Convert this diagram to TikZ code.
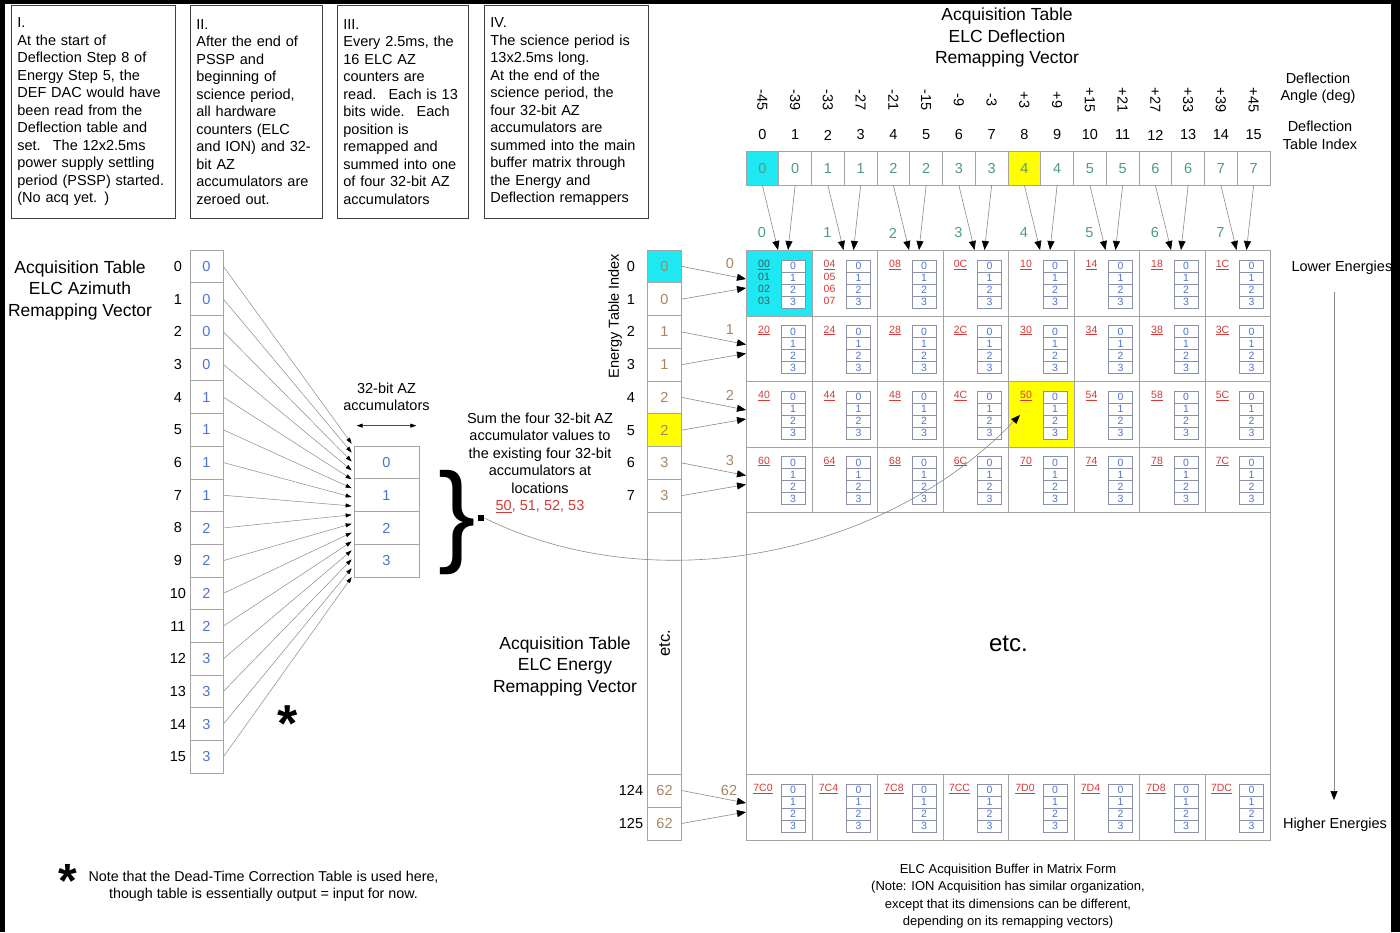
\documentclass[tikz,border=0pt]{standalone}
\usepackage{fontspec}
\setmainfont{Liberation Sans}
\usetikzlibrary{arrows.meta, positioning, calc}
\definecolor{elcCyan}{HTML}{1EE8F2}
\definecolor{elcYellow}{HTML}{FFFF00}
\definecolor{gridGray}{HTML}{A4A4A4}
\definecolor{subGray}{HTML}{8A90A8}
\definecolor{wireGray}{HTML}{8A8A8A}
\definecolor{azBlue}{HTML}{4F74CE}
\definecolor{deflTeal}{HTML}{4E9C80}
\definecolor{enBrown}{HTML}{A88660}
\definecolor{hexRed}{HTML}{D43A3A}
\definecolor{hexDark}{HTML}{3C5E60}

\newcommand{\txtsize}{\fontsize{14.5}{17.5}\selectfont}
\newcommand{\headsize}{\fontsize{17.5}{21.5}\selectfont}
\newcommand{\capsize}{\fontsize{13}{17.4}\selectfont}
\newcommand{\cellsize}{\fontsize{10.5}{12}\selectfont}

\tikzset{
  notebox/.style={draw=black!75, line width=0.8pt, anchor=north west, inner sep=6pt,
    align=left, font=\txtsize, minimum height=213pt, text width=#1},
  vcell/.style={draw=gridGray, line width=0.7pt, inner sep=0pt, font=\txtsize},
  mcell/.style={draw=gridGray, line width=0.7pt, inner sep=0pt, minimum width=65.5pt,
    minimum height=65.5pt, anchor=north west},
  subcell/.style={draw=subGray, fill=white, line width=0.5pt, inner sep=0pt, minimum width=24pt,
    minimum height=12pt, font=\cellsize, text=azBlue},
  hexlbl/.style={font=\cellsize, text=hexRed, inner sep=0pt},
  bigarrow/.style={draw=wireGray, line width=0.6pt, -{Triangle[length=9pt,width=7pt,color=black]}},
  smallarrow/.style={draw=wireGray, line width=0.5pt, -{Triangle[length=6pt,width=4pt,color=black]}},
  dblarrow/.style={draw=black!70, line width=0.6pt,
    {Triangle[length=6pt,width=4pt,color=black]}-{Triangle[length=6pt,width=4pt,color=black]}},
}

\begin{document}
\begin{tikzpicture}[x=1pt, y=-1pt]
  \useasboundingbox (0,0) rectangle (1400,932);
  \fill[white] (0,0) rectangle (1400,932);

  % notas
  \node[notebox=152pt] (note1) at (11,5) {I.\\At the start of\\Deflection Step 8 of\\Energy Step 5, the\\DEF DAC would have\\been read from the\\Deflection table and\\set.~ The 12x2.5ms\\power supply settling\\period (PSSP) started.\\(No acq yet. )};
  \node[notebox=120pt] (note2) at (190,5) {II.\\After the end of\\PSSP and\\beginning of\\science period,\\all hardware\\counters (ELC\\and ION) and 32-\\bit AZ\\accumulators are\\zeroed out.};
  \node[notebox=119pt] (note3) at (337,5) {III.\\Every 2.5ms, the\\16 ELC AZ\\counters are\\read.~ Each is 13\\bits wide.~ Each\\position is\\remapped and\\summed into one\\of four 32-bit AZ\\accumulators};
  \node[notebox=152pt] (note4) at (484,5) {IV.\\The science period is\\13x2.5ms long.\\At the end of the\\science period, the\\four 32-bit AZ\\accumulators are\\summed into the main\\buffer matrix through\\the Energy and\\Deflection remappers};

  % vector de azimut
  \node[font=\headsize, align=center] (aztitle) at (80,290) {Acquisition Table\\ELC Azimuth\\Remapping Vector};
  \foreach \i/\val in {0/0,1/0,2/0,3/0,4/1,5/1,6/1,7/1,8/2,9/2,10/2,11/2,12/3,13/3,14/3,15/3} {
    \node[vcell, minimum width=33pt, minimum height=32.7pt, text=azBlue] (az\i) at (206.5,{250+32.7*(\i+0.5)}) {\val};
    \node[font=\txtsize] (azidx\i) at (178,{250+32.7*(\i+0.5)}) {\i};
  }

  % acumuladores
  \foreach \k in {0,...,3}
    \node[vcell, minimum width=65pt, minimum height=32.8pt, text=azBlue] (acc\k) at (386.5,{446+32.8*(\k+0.5)}) {\k};
  \node[font=\txtsize, align=center] (acclbl) at (386.5,397) {32-bit AZ\\accumulators};
  \draw[dblarrow] ([xshift=3pt,yshift=20pt]acc0.north west) -- ([xshift=-3pt,yshift=20pt]acc0.north east);
  \foreach \i in {0,...,15}
    \draw[smallarrow] (az\i.east) -- ([xshift=-2pt,yshift={(2-8.9*\i)*1pt}]acc0.north west);
  \node[font=\bfseries\fontsize{52}{52}\selectfont, inner sep=0pt, anchor=base] (star1) at (288,741) {*};

  % llave y suma
  \node[font=\fontsize{112}{112}\selectfont, inner sep=0pt, anchor=base] (brace) at (457,551.5) {\}};
  \node[fill=black, inner sep=0pt, minimum size=6.5pt] (sq) at (481,518) {};
  \node[font=\txtsize, align=center] (sumnote) at (540,463) {Sum the four 32-bit AZ\\accumulator values to\\the existing four 32-bit\\accumulators at\\locations\\{\color{hexRed}\underline{50}, 51, 52, 53}};

  % vector de energia
  \node[font=\headsize, align=center] (entitle) at (565,666) {Acquisition Table\\ELC Energy\\Remapping Vector};
  \node[rotate=90, font=\txtsize] (enlbl) at (615,316) {Energy Table Index};
  \foreach \i/\val in {0/0,1/0,2/1,3/1,4/2,5/2,6/3,7/3} {
    \def\cellfill{white}
    \ifnum\i=0 \def\cellfill{elcCyan}\fi
    \ifnum\i=5 \def\cellfill{elcYellow}\fi
    \node[vcell, fill=\cellfill, minimum width=33.5pt, minimum height=32.75pt, text=enBrown] (en\i) at (664.5,{250+32.75*(\i+0.5)}) {\val};
    \node[font=\txtsize] (enidx\i) at (631,{250+32.75*(\i+0.5)}) {\i};
  }
  \node[vcell, rotate=90, minimum width=262pt, minimum height=33.5pt, font=\fontsize{16.5}{20}\selectfont] (enetc) at (664.5,643) {etc.};
  \node[vcell, minimum width=33.5pt, minimum height=33pt, text=enBrown] (en124) at (664.5,790.5) {62};
  \node[vcell, minimum width=33.5pt, minimum height=33pt, text=enBrown] (en125) at (664.5,823.5) {62};
  \node[font=\txtsize] (enidx124) at (631,790.5) {124};
  \node[font=\txtsize] (enidx125) at (631,823.5) {125};
  \foreach \rw in {0,...,3}
    \node[font=\txtsize, text=enBrown] (engrp\rw) at (730,{264+65.5*\rw}) {\rw};
  \node[font=\txtsize, text=enBrown] (engrp7) at (729,790) {62};

  % matriz
  \foreach \rw in {0,...,3} {
    \foreach \cl/\lo in {0/0,1/4,2/8,3/C,4/0,5/4,6/8,7/C} {
      \pgfmathtruncatemacro{\hi}{2*\rw+int(\cl/4)}
      \def\cellfill{white}\def\lblcol{hexRed}
      \ifnum\rw\cl=0 \def\cellfill{elcCyan}\def\lblcol{hexDark}\fi
      \ifnum\rw\cl=24 \def\cellfill{elcYellow}\fi
      \node[mcell, fill=\cellfill] (mx-\rw-\cl) at ({746+65.5*\cl},{250+65.5*\rw}) {};
      \node[hexlbl, text=\lblcol] (hx-\rw-\cl) at ([xshift=18pt,yshift=-15pt]mx-\rw-\cl.north west) {\underline{\hi\lo}};
      \foreach \k in {0,...,3}
        \node[subcell] (sb-\rw-\cl-\k) at ([xshift=47pt,yshift={-(16+12*\k)*1pt}]mx-\rw-\cl.north west) {\k};
    }
  }
  \foreach \k in {1,2,3} {
    \pgfmathtruncatemacro{\lo}{4+\k}
    \node[hexlbl, text=hexDark] (hx-0-0-\k) at ([xshift=18pt,yshift={-(15+12*\k)*1pt}]mx-0-0.north west) {0\k};
    \node[hexlbl] (hx-0-1-\k) at ([xshift=18pt,yshift={-(15+12*\k)*1pt}]mx-0-1.north west) {0\lo};
  }
  \node[draw=gridGray, line width=0.7pt, anchor=north west, minimum width=524pt, minimum height=262pt, inner sep=0pt, font=\fontsize{24}{28}\selectfont] (mxetc) at (746,512) {etc.};
  \foreach \cl/\lo in {0/C0,1/C4,2/C8,3/CC,4/D0,5/D4,6/D8,7/DC} {
    \node[mcell, minimum height=66pt] (mx-7-\cl) at ({746+65.5*\cl},774) {};
    \node[hexlbl] (hx-7-\cl) at ([xshift=17pt,yshift=-15pt]mx-7-\cl.north west) {\underline{7\lo}};
    \foreach \k in {0,...,3}
      \node[subcell] (sb-7-\cl-\k) at ([xshift=47pt,yshift={-(16+12*\k)*1pt}]mx-7-\cl.north west) {\k};
  }

  % flechas de energia
  \foreach \i/\rw/\s in {0/0/29,1/0/38,2/1/29,3/1/38,4/2/29,5/2/38,6/3/29,7/3/38,124/7/29,125/7/38}
    \draw[bigarrow] (en\i.east) -- ([yshift=-\s pt]mx-\rw-0.north west);

  % vector de deflexion
  \node[font=\headsize, align=center] (dftitle) at (1007,37.5) {Acquisition Table\\ELC Deflection\\Remapping Vector};
  \foreach \i/\val/\ang in {0/0/-45,1/0/-39,2/1/-33,3/1/-27,4/2/-21,5/2/-15,6/3/-9,7/3/-3,8/4/+3,9/4/+9,10/5/+15,11/5/+21,12/6/+27,13/6/+33,14/7/+39,15/7/+45} {
    \def\cellfill{white}
    \ifnum\i=0 \def\cellfill{elcCyan}\fi
    \ifnum\i=8 \def\cellfill{elcYellow}\fi
    \node[vcell, fill=\cellfill, minimum width=32.75pt, minimum height=33.5pt, text=deflTeal] (df\i) at ({746+32.75*(\i+0.5)},168.25) {\val};
    \node[font=\txtsize] (dfidx\i) at ({746+32.75*(\i+0.5)},135) {\i};
    \node[font=\txtsize, rotate=-90] (dfang\i) at ({746+32.75*(\i+0.5)},100) {\ang};
  }
  \foreach \cl in {0,...,7}
    \node[font=\txtsize, text=deflTeal] (dfgrp\cl) at ({762+65.5*\cl},233) {\cl};
  \foreach \i in {0,...,15} {
    \pgfmathtruncatemacro{\cl}{int(\i/2)}
    \pgfmathsetmacro{\dx}{32+10*mod(\i,2)}
    \draw[bigarrow] (df\i.south) -- ([xshift=\dx pt]mx-0-\cl.north west);
  }
  \node[font=\txtsize, align=center] (anglbl) at (1318,88) {Deflection\\Angle (deg)};
  \node[font=\txtsize, align=center] (idxlbl) at (1320,135.5) {Deflection\\Table Index};

  % energias
  \node[font=\txtsize, anchor=west] (lowE) at (1288,268) {Lower Energies};
  \node[font=\txtsize] (highE) at (1335,825) {Higher Energies};
  \coordinate (eTop) at (1334,292);
  \coordinate (eBot) at (1334,800);
  \draw[bigarrow] (eTop) -- (eBot);

  % suma al buffer
  \draw[bigarrow] (sq.east) .. controls (650,600) and (880,560) .. ([xshift=12pt,yshift=-34pt]mx-2-4.north west);

  % notas al pie
  \node[font=\capsize, align=center] (caption) at (1008,896) {ELC Acquisition Buffer in Matrix Form\\(Note: ION Acquisition has similar organization,\\except that its dimensions can be different,\\depending on its remapping vectors)};
  \node[font=\bfseries\fontsize{48}{48}\selectfont, inner sep=0pt, anchor=base] (star2) at (68,897) {*};
  \node[font=\fontsize{14.3}{17}\selectfont, align=center] (footnote) at (263.5,886) {Note that the Dead-Time Correction Table is used here,\\though table is essentially output = input for now.};

  % marco
  \fill[black] (0,0) rectangle (1400,4);
  \fill[black] (0,0) rectangle (4.5,932);
  \fill[black] (1391,0) rectangle (1400,932);
\end{tikzpicture}
\end{document}
